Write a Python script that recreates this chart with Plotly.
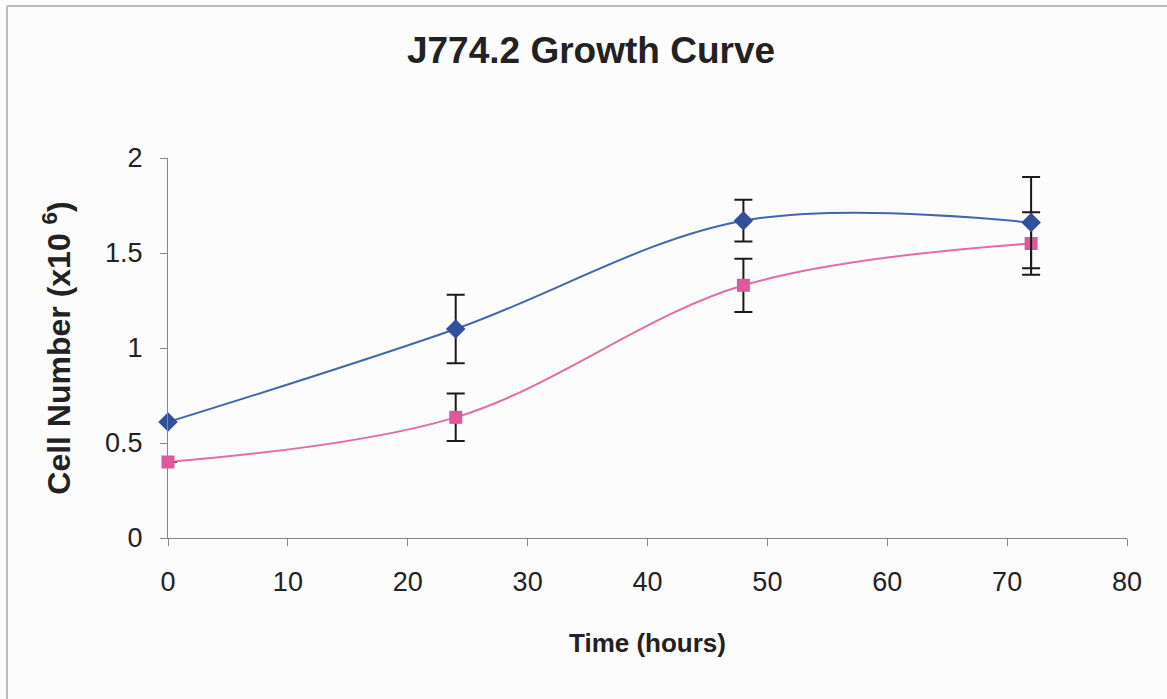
import plotly.graph_objects as go

time_hours = [0, 24, 48, 72]
series_a = [0.61, 1.10, 1.67, 1.66]
series_a_err = [0.0, 0.18, 0.11, 0.24]
series_b = [0.40, 0.635, 1.33, 1.55]
series_b_err = [0.0, 0.125, 0.14, 0.165]

x_ticks = [0, 10, 20, 30, 40, 50, 60, 70, 80]
y_ticks = [0, 0.5, 1, 1.5, 2]

blue_line = "#4466AE"
blue_mark = "#30509C"
pink_line = "#E36CA8"
pink_mark = "#E0589C"

fig = go.Figure()
fig.add_trace(go.Scatter(
    x=time_hours, y=series_b, mode="lines+markers", cliponaxis=False,
    line=dict(color=pink_line, width=2, shape="spline", smoothing=1.0),
    marker=dict(symbol="square", size=13, color=pink_mark),
    error_y=dict(type="data", array=series_b_err, color="#1a1a1a", thickness=2, width=9),
    showlegend=False,
))
fig.add_trace(go.Scatter(
    x=time_hours, y=series_a, mode="lines+markers", cliponaxis=False,
    line=dict(color=blue_line, width=2, shape="spline", smoothing=1.0),
    marker=dict(symbol="diamond", size=15, color=blue_mark),
    error_y=dict(type="data", array=series_a_err, color="#1a1a1a", thickness=2, width=9),
    showlegend=False,
))

font_family = "Liberation Sans, Arial, sans-serif"
fig.update_layout(
    width=1167, height=699,
    margin=dict(l=168, r=40, t=158, b=161),
    paper_bgcolor="#fcfcfc", plot_bgcolor="#fcfcfc",
    font=dict(family=font_family, size=27, color="#222222"),
    title=dict(text="<b>J774.2 Growth Curve</b>", x=591/1167, xanchor="center",
               y=1 - 50/699, yanchor="middle", font=dict(size=37, color="#222222")),
    xaxis=dict(range=[0, 80], tickvals=x_ticks, ticks="outside", ticklen=7,
               tickcolor="#888888", showline=True, linecolor="#888888", linewidth=1.2,
               showgrid=False, zeroline=False, tickfont=dict(size=27),
               ticklabelstandoff=12,
               title=dict(text="<b>Time (hours)</b>", font=dict(size=26), standoff=38)),
    yaxis=dict(range=[0, 2], tickvals=y_ticks, ticktext=["0", "0.5", "1", "1.5", "2"],
               ticks="outside", ticklen=7,
               tickcolor="#888888", showline=True, linecolor="#888888", linewidth=1.2,
               showgrid=False, zeroline=False, tickfont=dict(size=27),
               ticklabelstandoff=12,
               title=dict(text="<b>Cell Number (x10 <sup>6</sup>)</b>", font=dict(size=32), standoff=24)),
)
# top and left frame lines of the chart area
fig.add_shape(type="line", xref="paper", yref="paper",
              x0=(7-168)/959, x1=(1167-168)/959, y0=(538-6)/380, y1=(538-6)/380,
              line=dict(color="#bdbdbd", width=2))
fig.add_shape(type="line", xref="paper", yref="paper",
              x0=(7-168)/959, x1=(7-168)/959, y0=(538-699)/380, y1=(538-6)/380,
              line=dict(color="#bdbdbd", width=2))
fig.write_html("out.html", config={"displayModeBar": False},
               post_script="document.body.style.margin='0';")
